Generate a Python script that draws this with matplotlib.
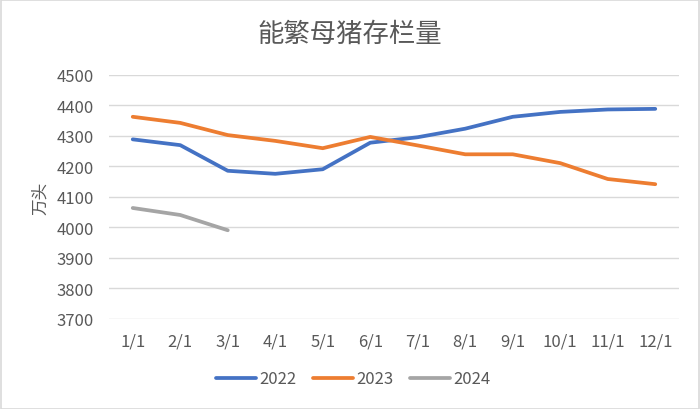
import matplotlib
matplotlib.use("Agg")
import matplotlib.pyplot as plt
from matplotlib.patches import Rectangle

plt.rcParams['font.family'] = ['Noto Sans CJK SC', 'DejaVu Sans']

categories = ['1/1', '2/1', '3/1', '4/1', '5/1', '6/1', '7/1', '8/1', '9/1', '10/1', '11/1', '12/1']
s2022 = [4289, 4270, 4186, 4176, 4191, 4278, 4296, 4324, 4363, 4379, 4387, 4389]
s2023 = [4363, 4343, 4303, 4284, 4260, 4297, 4269, 4240, 4240, 4211, 4159, 4142]
s2024 = [4064, 4041, 3991]
yticks = [3700, 3800, 3900, 4000, 4100, 4200, 4300, 4400, 4500]

fig = plt.figure(figsize=(7, 4.1), dpi=100)
ax = fig.add_axes([109/700, 1-320/410, (679-109)/700, (320-76)/410])

x = list(range(len(categories)))
ax.plot(x, s2022, color='#4472C4', lw=2.7, label='2022', solid_capstyle='round', solid_joinstyle='round')
ax.plot(x, s2023, color='#ED7D31', lw=2.7, label='2023', solid_capstyle='round', solid_joinstyle='round')
ax.plot(x[:len(s2024)], s2024, color='#A5A5A5', lw=2.7, label='2024', solid_capstyle='round', solid_joinstyle='round')

ax.set_xlim(-0.5, len(categories)-0.5)
ax.set_ylim(3700, 4500)
ax.set_yticks(yticks)
ax.set_xticks(x)
ax.set_xticklabels(categories)
ax.grid(axis='y', color='#D9D9D9', lw=1)
ax.set_axisbelow(True)
for s in ax.spines.values():
    s.set_visible(False)
ax.tick_params(length=0, labelsize=12, colors='#595959')
ax.tick_params(axis='x', pad=10)
ax.tick_params(axis='y', pad=11)
ax.set_ylabel('万头', fontsize=12, color='#595959', labelpad=5)

fig.text(0.5, 1-34/410, '能繁母猪存栏量', ha='center', va='center', fontsize=19, color='#595959')

leg = fig.legend(loc='center', bbox_to_anchor=(353/700, 1-380/410), ncol=3, frameon=False,
                 fontsize=12, handlelength=2.4, columnspacing=1.0, handletextpad=0.2)
for t in leg.get_texts():
    t.set_color('#595959')

fig.patches.append(Rectangle((0.001, 0.001), 0.997, 0.997, transform=fig.transFigure,
                             fill=False, edgecolor='#D9D9D9', lw=1.2))

fig.savefig('out.png', dpi=100)
